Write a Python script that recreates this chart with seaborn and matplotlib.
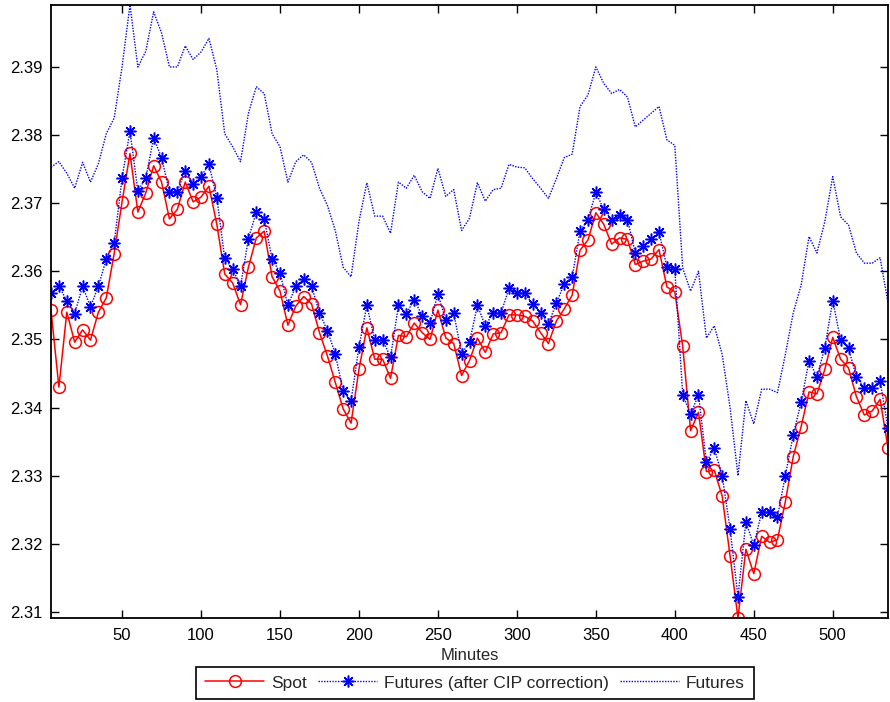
import numpy as np
import pandas as pd
import matplotlib
matplotlib.use("Agg")
import matplotlib.pyplot as plt
import seaborn as sns

# ---- data ----
minutes = np.arange(5, 540, 5)

spot = [
    2.3543, 2.3430, 2.3540, 2.3496, 2.3514, 2.3499, 2.3540, 2.3561, 2.3626, 2.3702,
    2.3773, 2.3687, 2.3715, 2.3755, 2.3731, 2.3677, 2.3691, 2.3731, 2.3702, 2.3709,
    2.3725, 2.3669, 2.3596, 2.3583, 2.3551, 2.3606, 2.3649, 2.3659, 2.3592, 2.3571,
    2.3521, 2.3549, 2.3563, 2.3552, 2.3510, 2.3476, 2.3437, 2.3398, 2.3377, 2.3456,
    2.3517, 2.3471, 2.3471, 2.3443, 2.3506, 2.3504, 2.3524, 2.3510, 2.3500, 2.3543,
    2.3502, 2.3494, 2.3447, 2.3469, 2.3502, 2.3481, 2.3508, 2.3510, 2.3536, 2.3536,
    2.3534, 2.3527, 2.3510, 2.3494, 2.3527, 2.3545, 2.3565, 2.3631, 2.3646, 2.3686,
    2.3669, 2.3640, 2.3649, 2.3647, 2.3610, 2.3615, 2.3618, 2.3632, 2.3577, 2.3570,
    2.3490, 2.3366, 2.3393, 2.3306, 2.3308, 2.3270, 2.3182, 2.3091, 2.3192, 2.3156,
    2.3211, 2.3202, 2.3206, 2.3262, 2.3328, 2.3372, 2.3423, 2.3420, 2.3456, 2.3503,
    2.3471, 2.3458, 2.3416, 2.3389, 2.3395, 2.3412, 2.3341,
]

futures_cip = [
    2.3568, 2.3578, 2.3557, 2.3538, 2.3578, 2.3548, 2.3578, 2.3618, 2.3641, 2.3737,
    2.3806, 2.3718, 2.3737, 2.3796, 2.3767, 2.3717, 2.3717, 2.3748, 2.3728, 2.3739,
    2.3757, 2.3708, 2.3619, 2.3604, 2.3578, 2.3648, 2.3687, 2.3677, 2.3618, 2.3598,
    2.3550, 2.3578, 2.3589, 2.3578, 2.3539, 2.3513, 2.3479, 2.3424, 2.3410, 2.3489,
    2.3550, 2.3499, 2.3499, 2.3474, 2.3550, 2.3538, 2.3558, 2.3535, 2.3524, 2.3567,
    2.3528, 2.3539, 2.3479, 2.3496, 2.3550, 2.3520, 2.3539, 2.3539, 2.3575, 2.3568,
    2.3568, 2.3552, 2.3539, 2.3523, 2.3553, 2.3582, 2.3591, 2.3659, 2.3676, 2.3716,
    2.3691, 2.3676, 2.3682, 2.3676, 2.3627, 2.3637, 2.3647, 2.3658, 2.3606, 2.3603,
    2.3419, 2.3390, 2.3419, 2.3320, 2.3340, 2.3300, 2.3222, 2.3122, 2.3232, 2.3198,
    2.3246, 2.3246, 2.3240, 2.3300, 2.3360, 2.3408, 2.3469, 2.3445, 2.3488, 2.3557,
    2.3499, 2.3487, 2.3445, 2.3429, 2.3429, 2.3439, 2.3370,
]

futures = [
    2.3753, 2.3761, 2.3744, 2.3722, 2.3760, 2.3731, 2.3758, 2.3802, 2.3825, 2.3900,
    2.3991, 2.3900, 2.3923, 2.3981, 2.3950, 2.3900, 2.3900, 2.3931, 2.3911, 2.3922,
    2.3942, 2.3896, 2.3802, 2.3783, 2.3761, 2.3832, 2.3871, 2.3861, 2.3802, 2.3783,
    2.3731, 2.3761, 2.3771, 2.3760, 2.3722, 2.3697, 2.3660, 2.3606, 2.3592, 2.3673,
    2.3730, 2.3681, 2.3681, 2.3656, 2.3731, 2.3722, 2.3741, 2.3717, 2.3707, 2.3751,
    2.3710, 2.3720, 2.3660, 2.3678, 2.3730, 2.3703, 2.3720, 2.3722, 2.3757, 2.3753,
    2.3752, 2.3736, 2.3722, 2.3707, 2.3736, 2.3767, 2.3772, 2.3842, 2.3859, 2.3900,
    2.3876, 2.3861, 2.3867, 2.3856, 2.3812, 2.3822, 2.3832, 2.3842, 2.3793, 2.3785,
    2.3605, 2.3571, 2.3600, 2.3502, 2.3520, 2.3478, 2.3400, 2.3300, 2.3410, 2.3376,
    2.3427, 2.3427, 2.3422, 2.3478, 2.3539, 2.3580, 2.3651, 2.3627, 2.3673, 2.3739,
    2.3680, 2.3668, 2.3627, 2.3612, 2.3612, 2.3620, 2.3554,
]

series_labels = ["Spot", "Futures (after CIP correction)", "Futures"]
x_ticks = [50, 100, 150, 200, 250, 300, 350, 400, 450, 500]
y_ticks = [2.31, 2.32, 2.33, 2.34, 2.35, 2.36, 2.37, 2.38, 2.39]
x_label = "Minutes"

# ---- styling ----
sns.set_style("ticks")
plt.rcParams["font.family"] = ["Liberation Sans", "DejaVu Sans"]
FS = 12
LFS = 12.5

fig = plt.figure(figsize=(8.9, 7.02), dpi=100)
ax = fig.add_axes([51 / 890, 84 / 702, 837 / 890, 613 / 702])

df = pd.DataFrame({"Minutes": minutes, "spot": spot,
                   "cip": futures_cip, "fut": futures})

sns.lineplot(data=df, x="Minutes", y="spot", ax=ax, color="red",
             linewidth=1.1, marker="o", markersize=8.5, markerfacecolor="none",
             markeredgecolor="red", markeredgewidth=1.1,
             label=series_labels[0])
sns.lineplot(data=df, x="Minutes", y="cip", ax=ax, color="blue",
             linewidth=1.0, linestyle=(0, (1, 1)), marker=(8, 2, 0),
             markersize=8.5, markeredgecolor="blue", markeredgewidth=1.1,
             label=series_labels[1])
sns.lineplot(data=df, x="Minutes", y="fut", ax=ax, color="blue",
             linewidth=1.0, linestyle=(0, (1, 1)),
             label=series_labels[2])

ax.set_xlim(minutes.min(), minutes.max())
ax.set_ylim(min(spot), max(futures))
ax.set_xticks(x_ticks)
ax.set_yticks(y_ticks)
ax.set_yticklabels([f"{v:.2f}" for v in y_ticks])
ax.set_xlabel(x_label, fontsize=FS, labelpad=3)
ax.set_ylabel("")

for side in ["top", "right", "left", "bottom"]:
    ax.spines[side].set_visible(True)
    ax.spines[side].set_color("black")
    ax.spines[side].set_linewidth(1.3)
ax.tick_params(direction="in", length=6, width=1, top=True, right=True,
               labelsize=FS, colors="black")
ax.tick_params(axis="x", pad=7.5)
ax.tick_params(axis="y", pad=6)
ax.grid(False)

handles, labels = ax.get_legend_handles_labels()
ax.get_legend().remove()
leg = fig.legend(handles, labels, loc="center",
                 bbox_to_anchor=(475 / 890, 1 - 683 / 702), ncol=3,
                 fontsize=LFS, frameon=True, fancybox=False, shadow=False,
                 handlelength=3.4, columnspacing=0.65, handletextpad=0.4,
                 borderpad=0.5, borderaxespad=0)
leg.get_frame().set_edgecolor("black")
leg.get_frame().set_linewidth(1.2)
leg.get_frame().set_alpha(1)

fig.savefig("out.png", dpi=100)
